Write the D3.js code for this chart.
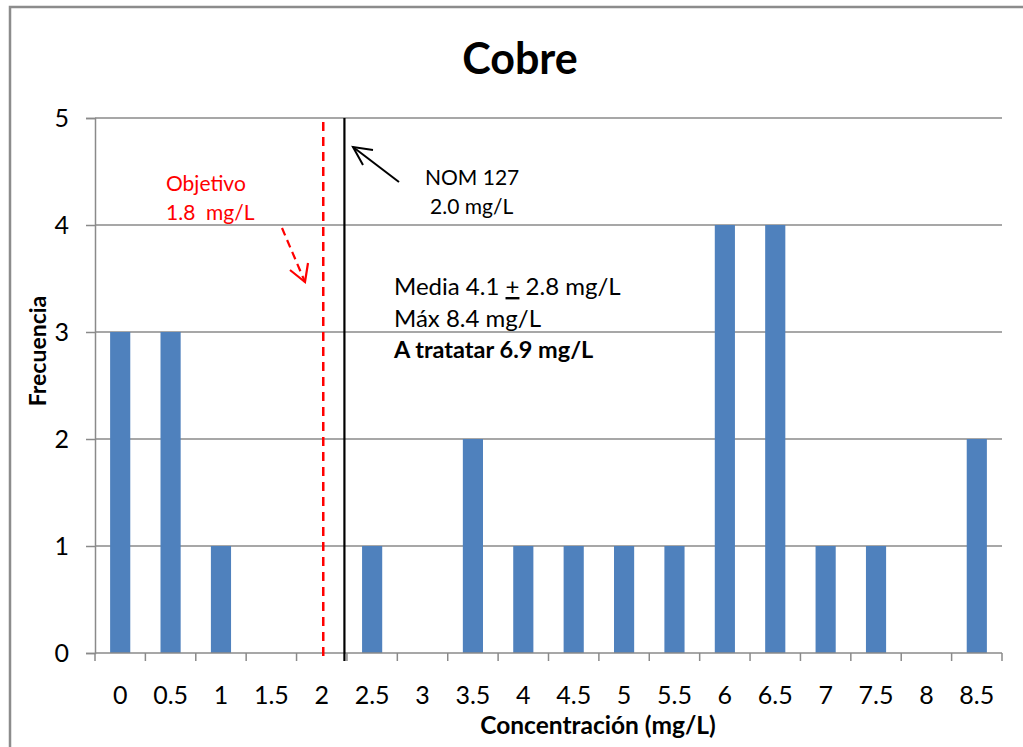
<!DOCTYPE html>
<html>
<head>
<meta charset="utf-8">
<script src="https://cdn.jsdelivr.net/npm/d3@7"></script>
<style>
html,body{margin:0;padding:0;background:#fff;}
svg{display:block;font-family:Lato,"Open Sans",sans-serif;}
</style>
</head>
<body>
<svg id="chart" width="1023" height="747"></svg>
<script>
const categories = ["0","0.5","1","1.5","2","2.5","3","3.5","4","4.5","5","5.5","6","6.5","7","7.5","8","8.5"];
const frequencies = [3,3,1,0,0,1,0,2,1,1,1,1,4,4,1,1,0,2];
const yTicks = [0,1,2,3,4,5];
const chartTitle = "Cobre";
const xTitle = "Concentración (mg/L)";
const yTitle = "Frecuencia";
// annotation reference lines, in category-band units from the left of the axis
const objetivoPos = 4.53;  // 1.8 mg/L (dashed red)
const nomPos = 4.95;       // NOM 127 2.0 mg/L (solid black)
const statsLines = ["Media 4.1 ", "Máx 8.4 mg/L", "A tratatar 6.9 mg/L"];

(function(){
const svg = d3.select("#chart");
const pL = 95, pR = 1002, pT = 118, pB = 653;

// outer frame
svg.append("rect").attr("x",10).attr("y",7).attr("width",1030).attr("height",760)
  .attr("fill","none").attr("stroke","#8c8c8c").attr("stroke-width",2.5);

const x = d3.scaleBand().domain(categories).range([pL,pR]).paddingInner(0.6).paddingOuter(0.3);
const xu = d3.scaleLinear().domain([0,categories.length]).range([pL,pR]);
const y = d3.scaleLinear().domain([0,5]).range([pB,pT]);

const grey = "#8a8a8a";
// gridlines
svg.append("g").selectAll("line").data(yTicks.filter(d=>d>0)).join("line")
  .attr("x1",pL).attr("x2",pR).attr("y1",d=>y(d)).attr("y2",d=>y(d))
  .attr("stroke",grey).attr("stroke-width",1.5);

// bars
svg.append("g").selectAll("rect").data(categories).join("rect")
  .attr("x",d=>x(d)).attr("width",x.bandwidth())
  .attr("y",(d,i)=>y(frequencies[i])).attr("height",(d,i)=>y(0)-y(frequencies[i]))
  .attr("fill","#4F81BD");

// y axis
const yAxis = svg.append("g").attr("transform",`translate(${pL},0)`)
  .call(d3.axisLeft(y).tickValues(yTicks).tickFormat(d3.format("d")).tickSize(9).tickPadding(17));
yAxis.select(".domain").attr("stroke",grey).attr("stroke-width",1.5);
yAxis.selectAll(".tick line").attr("stroke",grey).attr("stroke-width",1.5);
yAxis.selectAll("text").attr("font-size",25).attr("fill","#000").attr("font-family","Lato");

// x axis
const boundaries = d3.range(categories.length+1);
const xAxisG = svg.append("g").attr("transform",`translate(0,${pB})`);
xAxisG.append("line").attr("x1",pL).attr("x2",pR).attr("stroke",grey).attr("stroke-width",1.5);
xAxisG.selectAll("line.tk").data(boundaries).join("line").attr("class","tk")
  .attr("x1",d=>xu(d)).attr("x2",d=>xu(d)).attr("y1",0).attr("y2",8)
  .attr("stroke",grey).attr("stroke-width",1.5);
xAxisG.selectAll("text").data(categories).join("text")
  .attr("x",d=>x(d)+x.bandwidth()/2).attr("y",51)
  .attr("text-anchor","middle").attr("font-size",25).attr("fill","#000")
  .text(d=>d);

// titles
svg.append("text").attr("x",520).attr("y",74).attr("text-anchor","middle")
  .attr("font-size",43).attr("font-weight","bold").text(chartTitle);
svg.append("text").attr("x",598).attr("y",734).attr("text-anchor","middle")
  .attr("font-size",24.5).attr("font-weight","bold").text(xTitle);
svg.append("text").attr("transform","translate(46,351) rotate(-90)").attr("text-anchor","middle")
  .attr("font-size",23).attr("font-weight","bold").text(yTitle);

// reference lines
svg.append("line").attr("x1",xu(objetivoPos)).attr("x2",xu(objetivoPos)).attr("y1",122).attr("y2",656)
  .attr("stroke","#ff0000").attr("stroke-width",2.5).attr("stroke-dasharray","9,6");
svg.append("line").attr("x1",xu(nomPos)).attr("x2",xu(nomPos)).attr("y1",118).attr("y2",661)
  .attr("stroke","#000").attr("stroke-width",2.2);

// red dashed arrow
svg.append("path").attr("d","M282,228 L305,282").attr("stroke","#ff0000").attr("stroke-width",2.2)
  .attr("stroke-dasharray","8,5").attr("fill","none");
svg.append("path").attr("d","M290,270 L305,282 L308,263").attr("stroke","#ff0000").attr("stroke-width",2.2)
  .attr("fill","none");
// black arrow
svg.append("path").attr("d","M399,182 L353,147").attr("stroke","#000").attr("stroke-width",2).attr("fill","none");
svg.append("path").attr("d","M373,150 L353,147 L363,165").attr("stroke","#000").attr("stroke-width",2).attr("fill","none");

// annotation text
svg.append("text").attr("x",166).attr("y",191).attr("fill","#ff0000").attr("font-size",21).text("Objetivo");
svg.append("text").attr("x",166).attr("y",220).attr("fill","#ff0000").attr("font-size",21).attr("xml:space","preserve").text("1.8  mg/L");
svg.append("text").attr("x",425).attr("y",185).attr("font-size",21).text("NOM 127");
svg.append("text").attr("x",430).attr("y",214).attr("font-size",21).text("2.0 mg/L");

const t1 = svg.append("text").attr("x",394).attr("y",295).attr("font-size",24);
t1.append("tspan").text(statsLines[0]);
t1.append("tspan").attr("text-decoration","underline").text("+");
t1.append("tspan").text(" 2.8 mg/L");
svg.append("text").attr("x",394).attr("y",327).attr("font-size",24).text(statsLines[1]);
svg.append("text").attr("x",394).attr("y",358).attr("font-size",23.5).attr("font-weight","bold").text(statsLines[2]);
})();
</script>
</body>
</html>
